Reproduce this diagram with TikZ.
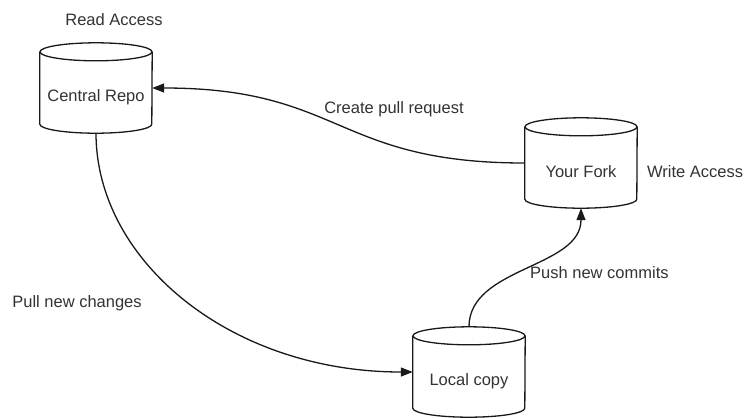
\documentclass[tikz,border=0pt]{standalone}
\usepackage{fontspec}
\setmainfont{Liberation Sans}
\usetikzlibrary{arrows.meta}
\begin{document}
\begin{tikzpicture}[x=1bp,y=-1bp,
  repo/.style={minimum width=112bp,minimum height=90bp,inner sep=0pt,draw=none},
  cylline/.style={line width=1.3bp,black!90},
  txt/.style={font=\fontsize{16.5bp}{20bp}\selectfont,text=black!80,inner sep=0pt},
  flow/.style={line width=1.3bp,black!90,-{Triangle[length=12bp,width=9bp]}}]
\useasboundingbox[fill=white] (0,0) rectangle (745,417);

% repositories (full cylinder extent)
\node[repo] (central) at (96,88) {};
\node[repo] (fork) at (581,163) {};
\node[repo] (local) at (469,372) {};

% cylinder outlines
\foreach \n in {central,fork,local}{
  \draw[cylline] ([yshift=-9bp]\n.north west) -- ([yshift=9bp]\n.south west)
    arc[start angle=180,end angle=360,x radius=56bp,y radius=9bp]
    -- ([yshift=-9bp]\n.north east);
  \draw[cylline] ([yshift=-9bp]\n.north) ellipse[x radius=56bp,y radius=9bp];
}

% names inside the cylinders
\node[txt] (central-name) at ([yshift=-9bp]central.center) {Central Repo};
\node[txt] (fork-name) at ([yshift=-9bp]fork.center) {Your Fork};
\node[txt] (local-name) at ([yshift=-9bp]local.center) {Local copy};

% access notes
\node[txt] (read-access) at (114,20) {Read Access};
\node[txt,anchor=west] (write-access) at (647,172) {Write Access};

% workflow arrows
\draw[flow] (central.south) .. controls ([yshift=-127bp]central.south) and ([xshift=-183bp]local.west) .. (local.west);
\draw[flow] (fork.west) .. controls ([xshift=-190bp]fork.west) and ([xshift=190bp]central.east) .. (central.east);
\draw[flow] (local.north) .. controls ([yshift=60bp]local.north) and ([yshift=-60bp]fork.south) .. (fork.south);

% arrow labels
\node[txt] (pull-label) at (77,303) {Pull new changes};
\node[txt] (pr-label) at (394,109) {Create pull request};
\node[txt,anchor=west] (push-label) at (530,273) {Push new commits};
\end{tikzpicture}
\end{document}
